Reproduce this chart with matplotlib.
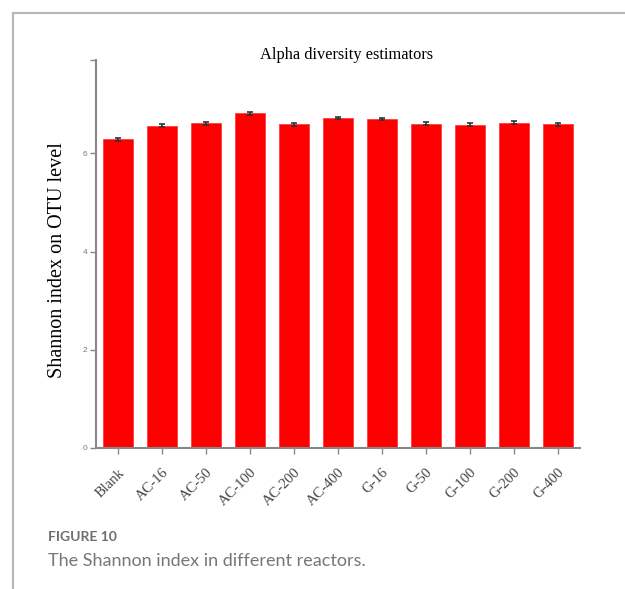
import matplotlib
matplotlib.use("Agg")
from matplotlib import pyplot as plt
from matplotlib.lines import Line2D

# data
groups = ["Blank", "AC-16", "AC-50", "AC-100", "AC-200", "AC-400",
          "G-16", "G-50", "G-100", "G-200", "G-400"]
shannon = [6.29, 6.56, 6.61, 6.82, 6.59, 6.72, 6.70, 6.60, 6.58, 6.62, 6.59]
shannon_err = [0.03, 0.03, 0.03, 0.03, 0.03, 0.03, 0.03, 0.03, 0.03, 0.03, 0.03]
ytick_vals = [0, 2, 4, 6]

fig = plt.figure(figsize=(6.25, 5.89), dpi=100)
ax = fig.add_axes([0.1536, 0.2394, 0.7744, 0.6586])

x = range(len(groups))
ax.bar(x, shannon, width=0.66, color="#ff0000", edgecolor="#ff3030", linewidth=0.5,
       yerr=shannon_err, error_kw=dict(ecolor="#333333", elinewidth=1.2, capsize=2, capthick=1.2))

ax.set_xlim(-0.5, 10.5)
ax.set_ylim(0, 7.9)
ax.set_yticks(ytick_vals + [7.9])
ax.set_yticklabels([str(v) for v in ytick_vals] + [""], fontsize=6, color="#777777",
                   family="Liberation Sans")
ax.set_xticks(list(x))
ax.set_xticklabels(groups, rotation=45, ha="right", rotation_mode="anchor",
                   family="Liberation Serif", fontsize=10.5, color="#444444")

for s in ["top", "right"]:
    ax.spines[s].set_visible(False)
for s in ["left", "bottom"]:
    ax.spines[s].set_color("#888888")
    ax.spines[s].set_linewidth(1.5)
ax.tick_params(axis="both", colors="#888888", length=4, width=1)
ax.tick_params(axis="x", pad=9)
ax.tick_params(axis="y", pad=2)
for lab in ax.get_xticklabels():
    lab.set_color("#444444")
for lab in ax.get_yticklabels():
    lab.set_color("#777777")

ax.set_ylabel("Shannon index on OTU level", family="Liberation Serif", fontsize=14.5)
ax.yaxis.set_label_coords(-0.06, 0.485)
fig.text(0.555, 0.906, "Alpha diversity estimators", family="Liberation Serif",
         fontsize=11.8, ha="center", va="center")

# frame lines of the figure panel
fig.add_artist(Line2D([13 / 625, 13 / 625], [0, 1 - 13 / 589], transform=fig.transFigure,
                      color="#b5b5b5", linewidth=1.5))
fig.add_artist(Line2D([13 / 625, 1], [1 - 13 / 589, 1 - 13 / 589], transform=fig.transFigure,
                      color="#b5b5b5", linewidth=1.5))

# caption
fig.text(48 / 625, 1 - 537 / 589, "FIGURE 10", family="Lato", fontweight="bold",
         fontsize=10, color="#6e6e6e", va="center")
fig.text(48 / 625, 1 - 561 / 589, "The Shannon index in different reactors.", family="Lato",
         fontsize=13, color="#777777", va="center")

plt.savefig("out.png", dpi=100)
